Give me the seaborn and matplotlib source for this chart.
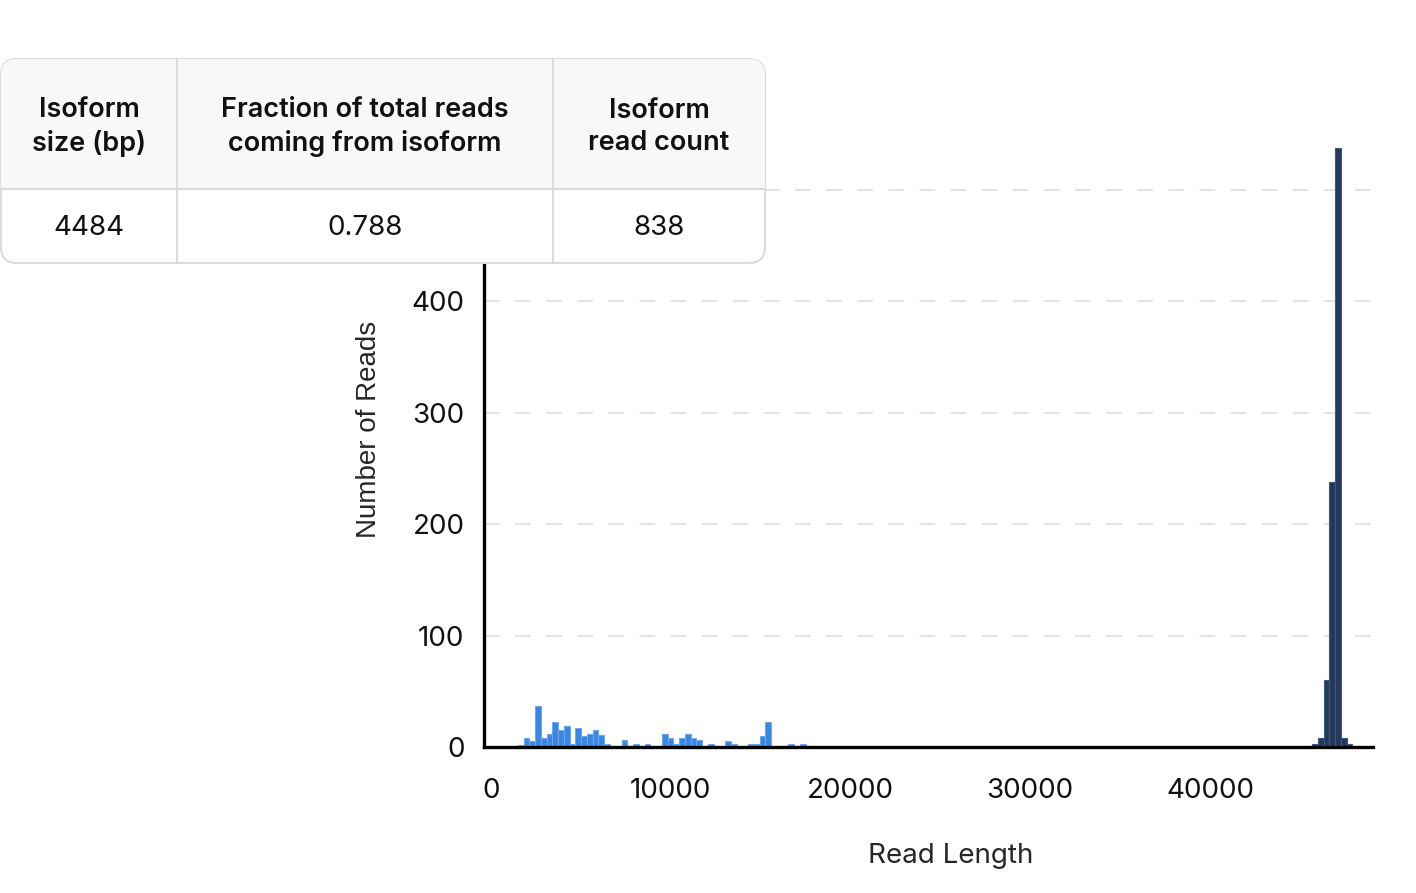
import matplotlib
matplotlib.use("Agg")
import matplotlib.pyplot as plt
from matplotlib.patches import FancyBboxPatch, Rectangle
import seaborn as sns

# Histogram bins (bin start in bp) and read counts
BIN_WIDTH = 320
other_starts = [1500, 1820, 2140, 2460, 2780, 3100, 3420, 3740, 4060, 4380,
                4700, 5020, 5340, 5660, 5980, 6300, 7260, 7900, 8540, 9180,
                9500, 9820, 10140, 10460, 10780, 11100, 11420, 12060, 13020,
                13340, 14300, 14620, 14940, 15260, 16540, 17180]
other_counts = [2, 8, 5, 37, 8, 12, 22, 15, 19, 3,
                17, 10, 12, 15, 11, 3, 6, 3, 3, 1,
                12, 8, 3, 8, 12, 8, 6, 3, 5,
                3, 3, 3, 10, 22, 3, 3]
isoform_starts = [45680, 46000, 46320, 46640, 46960, 47280, 47600]
isoform_counts = [3, 8, 60, 238, 538, 8, 3]

# Summary table
table_header = ["Isoform\nsize (bp)", "Fraction of total reads\ncoming from isoform",
                "Isoform\nread count"]
table_values = ["4484", "0.788", "838"]

x_ticks = [0, 10000, 20000, 30000, 40000]
y_ticks = [0, 100, 200, 300, 400, 500]

sns.set_theme(style="white")
plt.rcParams["font.family"] = ["Inter", "DejaVu Sans"]

fig = plt.figure(figsize=(14.16, 8.93), dpi=100)
ax = fig.add_axes([484 / 1416, 1 - 747 / 893, (1373 - 484) / 1416, (747 - 142) / 893])

sns.histplot(x=other_starts, weights=other_counts, binwidth=BIN_WIDTH,
             binrange=(other_starts[0], other_starts[-1] + BIN_WIDTH),
             color="#3b86e0", edgecolor="#6ea8ee", linewidth=0.8, alpha=1, ax=ax)
sns.histplot(x=isoform_starts, weights=isoform_counts, binwidth=BIN_WIDTH,
             binrange=(isoform_starts[0], isoform_starts[-1] + BIN_WIDTH),
             color="#22395a", edgecolor="#3d5b80", linewidth=0.8, alpha=1, ax=ax)

ax.set_xlim(-390, 49070)
ax.set_ylim(0, 543)
ax.set_xticks(x_ticks)
ax.set_yticks(y_ticks)
ax.tick_params(axis="both", labelsize=20, length=7, width=1.6, color="black",
               direction="out", labelcolor="#111111")
ax.tick_params(axis="x", pad=15)
ax.tick_params(axis="y", pad=7)
ax.yaxis.grid(True, color="#e3e3e3", linestyle=(0, (8, 8)), linewidth=1.4)
ax.set_axisbelow(True)
sns.despine(ax=ax)
for side in ["left", "bottom"]:
    ax.spines[side].set_color("black")
    ax.spines[side].set_linewidth(2.4)

ax.set_xlabel("Read Length", fontsize=20, va="center")
ax.set_ylabel("Number of Reads", fontsize=20, va="center",
              family=["Liberation Sans", "DejaVu Sans"])
ax.xaxis.set_label_coords((951 - 484) / (1373 - 484), -(856 - 747) / (747 - 142))
ax.yaxis.set_label_coords(-(484 - 369) / (1373 - 484), (747 - 429) / (747 - 142))

# Table overlay in pixel coordinates
tab = fig.add_axes([0, 0, 1, 1])
tab.set_xlim(0, 1416)
tab.set_ylim(893, 0)
tab.axis("off")
box = FancyBboxPatch((1, 59), 764, 204, boxstyle="round,pad=0,rounding_size=16",
                     facecolor="white", edgecolor="#dcdcdc", linewidth=1.5, zorder=1)
tab.add_patch(box)
head = Rectangle((0, 58), 770, 131, facecolor="#f8f8f8", edgecolor="none", zorder=2)
tab.add_patch(head)
head.set_clip_path(box)
tab.plot([1, 765], [189, 189], color="#dcdcdc", lw=1.5, zorder=3)
for xc in [177, 553]:
    tab.plot([xc, xc], [59, 263], color="#dcdcdc", lw=1.5, zorder=3)
col_centers = [89, 365, 659]
for xc, h, v in zip(col_centers, table_header, table_values):
    tab.text(xc, 127, h, ha="center", va="center", fontsize=19.5, fontweight="semibold",
             color="#111111", linespacing=1.35, zorder=4)
    tab.text(xc, 228, v, ha="center", va="center", fontsize=20, color="#111111", zorder=4)

fig.savefig("out.png", dpi=100)
